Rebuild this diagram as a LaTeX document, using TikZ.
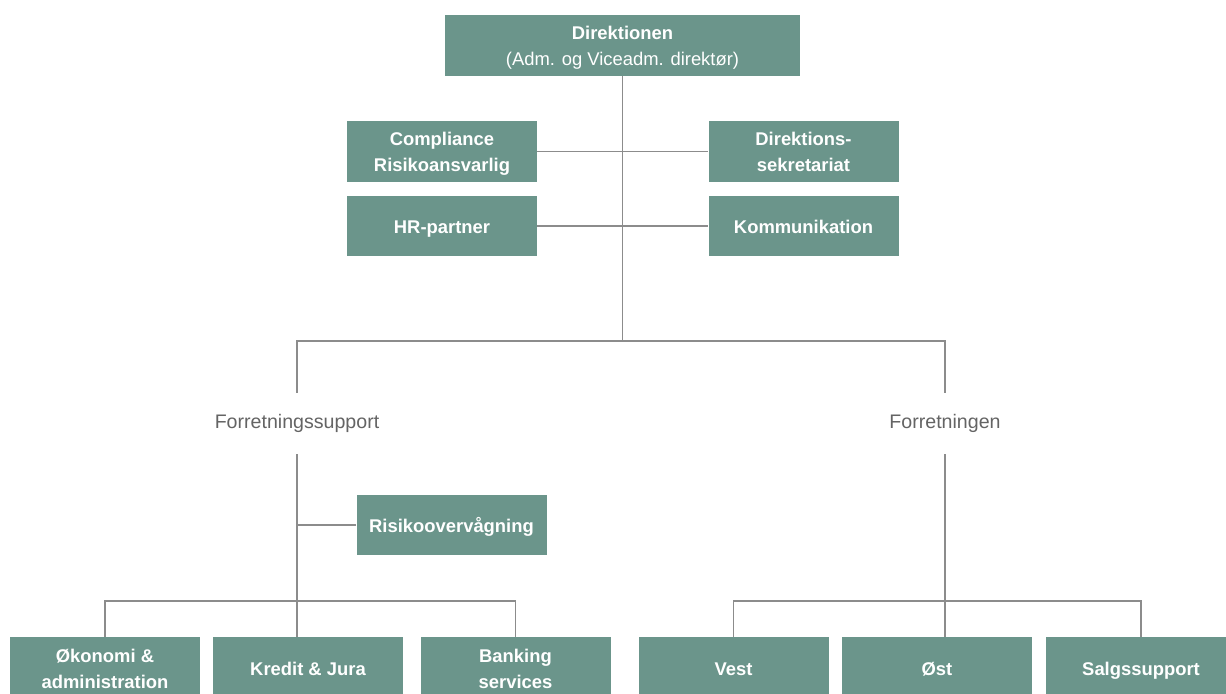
\documentclass[tikz,border=0pt]{standalone}
\usepackage{fontspec}
\setmainfont{Liberation Sans}
\usepackage{tikz}
\usetikzlibrary{positioning}
\definecolor{boxgreen}{RGB}{107,149,139}
\definecolor{linegray}{RGB}{140,140,140}
\definecolor{txtgray}{RGB}{100,100,100}
\newcommand{\tstrut}{\rule{0pt}{11pt}}

\begin{document}
\begin{tikzpicture}[x=0.5pt,y=-0.5pt,
    box/.style={fill=boxgreen, text=white, align=center, inner sep=0pt,
      font=\fontsize{9.2}{13}\selectfont\bfseries,
      minimum width=95pt, minimum height=30.5pt},
    lbl/.style={text=txtgray, inner sep=0pt, minimum height=30.5pt,
      font=\fontsize{9.8}{12}\selectfont},
    link/.style={draw=linegray, line width=0.7pt}]
    % page frame
    \fill[white, use as bounding box] (0,0) rectangle (1226,693);
    \clip (0,0) rectangle (1226,693);

    % top: board and staff
    \node[box, minimum width=177.5pt] (dir) at (622.5,45.5)
      {\tstrut Direktionen\\{\mdseries (Adm. og Viceadm. direktør)\strut}};
    \node[box] (comp) at (442,151.5) {\tstrut Compliance\\Risikoansvarlig\strut};
    \node[box] (sekr) at (803.5,151.5) {\tstrut Direktions-\\sekretariat\strut};
    \node[box, minimum height=30pt] (hr) at (442,226) {\tstrut HR-partner\strut};
    \node[box, minimum height=30pt] (komm) at (803.5,226) {\tstrut Kommunikation\strut};
    \coordinate (bar) at (622.5,341);

    % two branches
    \node[lbl] (fsup) at (297,423.5) {Forretningssupport};
    \node[lbl] (fret) at (945,423.5) {Forretningen};
    \node[box, minimum height=30pt] (risk) at (451.5,525) {\tstrut Risikoovervågning\strut};
    \coordinate (lbar) at (297,601);
    \coordinate (rbar) at (945,601);

    % bottom row
    \node[box, minimum height=31pt] (oek) at (105,668) {\tstrut Økonomi \&\\administration\strut};
    \node[box, minimum height=31pt] (kred) at (308,668) {\tstrut Kredit \& Jura\strut};
    \node[box, minimum height=31pt] (bank) at (515.5,668) {\tstrut Banking\\services\strut};
    \node[box, minimum height=31pt] (vest) at (733.5,668) {\tstrut Vest\strut};
    \node[box, minimum height=31pt] (oest) at (937,668) {\tstrut Øst\strut};
    \node[box, minimum height=31pt] (salg) at (1141,668) {\tstrut Salgssupport\strut};

    % connectors
    \draw[link] (dir) -- (bar);
    \draw[link] (comp) -- (sekr);
    \draw[link] (hr) -- (komm);
    \draw[link] (fsup.north) |- (bar) -| (fret.north);
    \draw[link] (fsup.south) -- (lbar);
    \draw[link] (risk) -- (risk -| lbar);
    \draw[link] (oek.north) |- (lbar) -| (bank.north);
    \draw[link] (lbar) -- (lbar |- kred.north);
    \draw[link] (fret.south) -- (rbar);
    \draw[link] (vest.north) |- (rbar) -| (salg.north);
    \draw[link] (rbar) -- (rbar |- oest.north);
\end{tikzpicture}
\end{document}
